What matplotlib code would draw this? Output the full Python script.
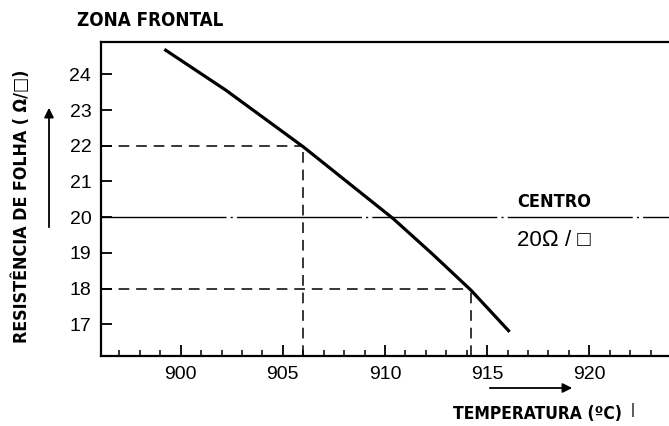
import matplotlib
matplotlib.use("Agg")
import matplotlib.pyplot as plt
from matplotlib.ticker import MultipleLocator, FixedLocator

# Data
temp = [899.2, 902.2, 906.0, 910.4, 912.3, 914.2, 916.1]
resist = [24.70, 23.56, 21.97, 19.96, 18.98, 17.96, 16.79]
x_ticks = [900, 905, 910, 915, 920]
y_ticks = [17, 18, 19, 20, 21, 22, 23, 24]
center_value = 20
ref_high = (906.0, 22.0)
ref_low = (914.2, 18.0)

plt.rcParams['font.family'] = ['Liberation Sans', 'DejaVu Sans']

fig = plt.figure(figsize=(6.69, 4.26), dpi=100)
ax = fig.add_axes([0.151, 0.164, 0.849, 0.737])
xmin, xmax = 896.1, 923.9
ymin, ymax = 16.11, 24.90
ax.set_xlim(xmin, xmax)
ax.set_ylim(ymin, ymax)

ax.plot(temp, resist, color='black', lw=2.3, solid_capstyle='butt',
        solid_joinstyle='round')

# Centre line (dash-dot)
ax.axhline(center_value, color='black', lw=1.0, dashes=(90, 3, 1.5, 3))

# Reference dashed lines
dash = dict(color='black', lw=1.1, dashes=(7, 4.5))
ax.plot([xmin, ref_high[0]], [ref_high[1], ref_high[1]], **dash)
ax.plot([ref_high[0], ref_high[0]], [ymin, ref_high[1]], **dash)
ax.plot([xmin, ref_low[0]], [ref_low[1], ref_low[1]], **dash)
ax.plot([ref_low[0], ref_low[0]], [ymin, ref_low[1]], **dash)

for s in ['left', 'bottom', 'top']:
    ax.spines[s].set_linewidth(1.6)
ax.spines['right'].set_visible(False)

ax.xaxis.set_major_locator(FixedLocator(x_ticks))
ax.xaxis.set_minor_locator(MultipleLocator(1))
ax.yaxis.set_major_locator(FixedLocator(y_ticks))
ax.tick_params(axis='both', which='major', direction='in', length=8, width=1.3,
               labelsize=14, pad=7)
ax.tick_params(axis='x', which='minor', direction='in', length=4, width=1.1)
ax.tick_params(top=False, right=False)
ax.set_xticklabels([str(t) for t in x_ticks])
ax.set_yticklabels([str(t) for t in y_ticks])

kw = dict(family=['DejaVu Sans'], stretch='condensed', weight='bold')
fig.text(77/669, 1-20/426, 'ZONA FRONTAL', fontsize=13.5, ha='left', va='center', **kw)
fig.text(517/669, 1-202/426, 'CENTRO', fontsize=13, ha='left', va='center', **kw)
fig.text(517/669, 1-240/426, '20\u2126 / \u25a1', family=['Liberation Sans', 'DejaVu Sans'],
         fontsize=16, ha='left', va='center')
fig.text(22/669, 1-206/426, 'RESISTÊNCIA DE FOLHA ( \u2126/\u25a1)', fontsize=12.8,
         rotation=90, ha='center', va='center', **kw)
fig.text(453/669, 1-414/426, 'TEMPERATURA (ºC)', fontsize=12.5, ha='left', va='center', **kw)
fig.text(633/669, 1-410/426, '|', fontsize=11, ha='center', va='center')

# Arrows
fig.add_artist(matplotlib.patches.FancyArrowPatch(
    (49/669, 1-230/426), (49/669, 1-105/426), transform=fig.transFigure,
    arrowstyle='-|>', mutation_scale=14, lw=1.3, color='black'))
fig.add_artist(matplotlib.patches.FancyArrowPatch(
    (487/669, 1-388/426), (575/669, 1-388/426), transform=fig.transFigure,
    arrowstyle='-|>', mutation_scale=14, lw=1.3, color='black'))

fig.savefig('out.png', dpi=100)
